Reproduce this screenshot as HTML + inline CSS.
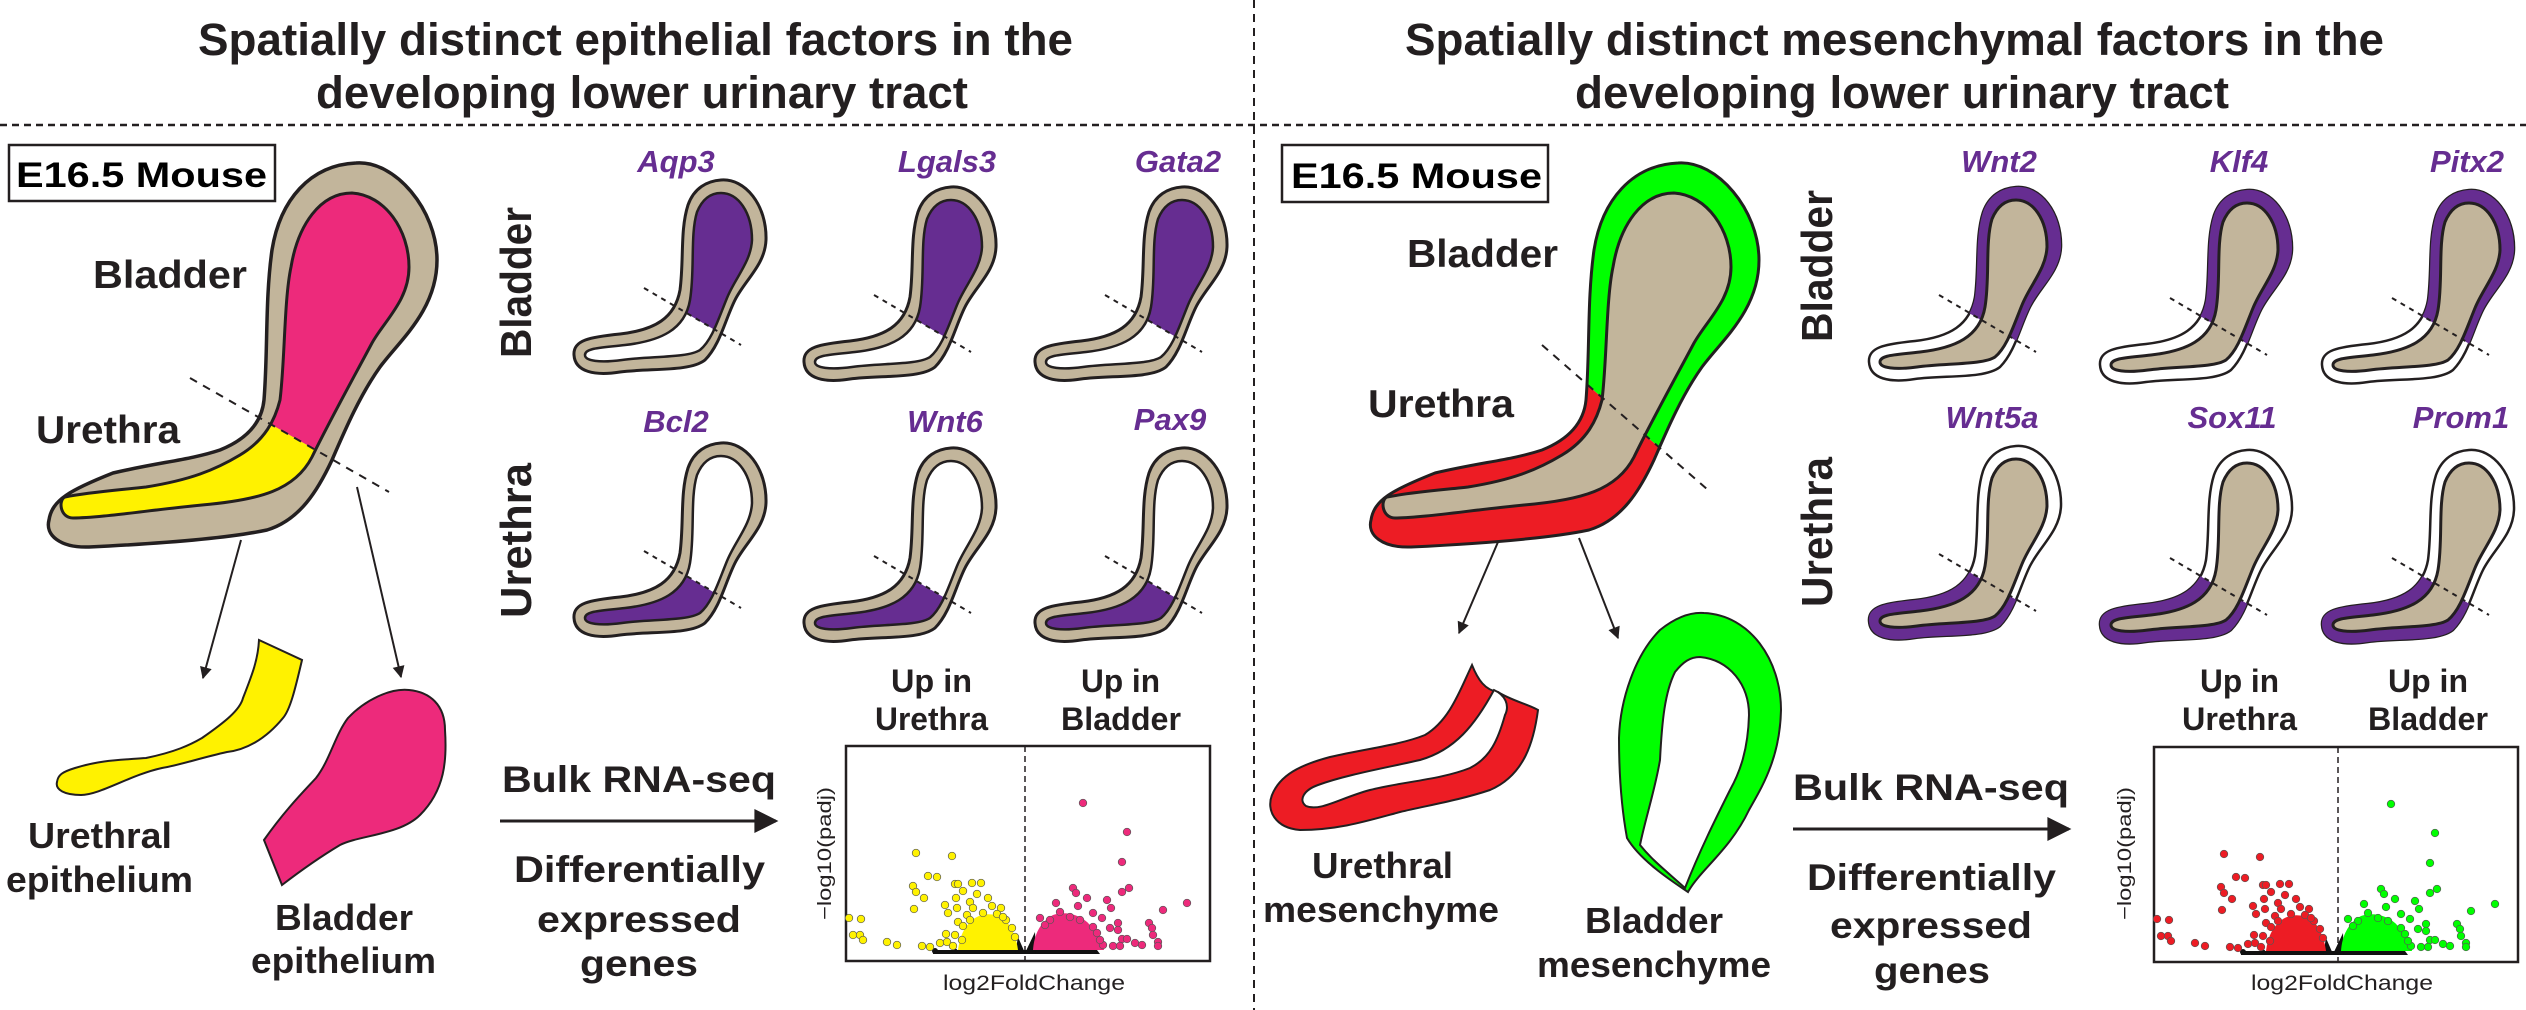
<!DOCTYPE html>
<html><head><meta charset="utf-8"><style>
html,body{margin:0;padding:0;background:#fff;}
svg{display:block;}
text{font-family:"Liberation Sans",Arial,sans-serif;}
.b{font-weight:bold;fill:#231f20;}
.g{font-weight:bold;font-style:italic;fill:#662d91;font-size:31px;}
</style></head><body>
<svg width="2526" height="1010" viewBox="0 0 2526 1010" xmlns="http://www.w3.org/2000/svg">
<defs>
  <marker id="ah" viewBox="0 0 10 10" refX="9" refY="5" markerWidth="14" markerHeight="12" orient="auto" markerUnits="userSpaceOnUse" style="overflow:visible">
    <path d="M0,0 L10,5 L0,10 Z" fill="#231f20"/>
  </marker>
  <marker id="ah2" viewBox="0 0 10 10" refX="9" refY="5" markerWidth="24" markerHeight="24" orient="auto" markerUnits="userSpaceOnUse" style="overflow:visible">
    <path d="M0,0 L10,5 L0,10 Z" fill="#231f20"/>
  </marker>
  <path id="sO" d="M721,180 C745,178 767,205 766,240 C765,265 745,280 735,300 C725,320 720,345 705,360 C690,372 650,368 620,372 C595,376 575,372 574,355 C573,340 590,337 620,334 C655,330 675,318 680,290 C684,260 680,230 688,205 C694,188 707,181 721,180 Z"/>
  <path id="sL" d="M721,193 C738,193 752,212 752,240 C751,262 735,278 727,298 C718,320 712,340 700,350 C688,358 650,356 622,360 C600,363 585,361 585,355 C585,348 600,348 625,345 C660,341 685,330 690,300 C695,270 690,235 697,212 C702,200 710,193 721,193 Z"/>
  <clipPath id="sUp"><polygon points="560,239 800,380 800,150 560,150"/></clipPath>
  <clipPath id="sDn"><polygon points="560,239 800,380 800,400 560,400"/></clipPath>
  <g id="eB">
    <use href="#sO" fill="#c2b59b" stroke="#231f20" stroke-width="3"/>
    <use href="#sL" fill="#fff"/>
    <use href="#sL" fill="#662d91" clip-path="url(#sUp)"/>
    <use href="#sL" fill="none" stroke="#231f20" stroke-width="2.5"/>
    <line x1="644" y1="288" x2="741" y2="345" stroke="#231f20" stroke-width="2" stroke-dasharray="5,5"/>
  </g>
  <g id="eU">
    <use href="#sO" fill="#c2b59b" stroke="#231f20" stroke-width="3"/>
    <use href="#sL" fill="#fff"/>
    <use href="#sL" fill="#662d91" clip-path="url(#sDn)"/>
    <use href="#sL" fill="none" stroke="#231f20" stroke-width="2.5"/>
    <line x1="644" y1="288" x2="741" y2="345" stroke="#231f20" stroke-width="2" stroke-dasharray="5,5"/>
  </g>
  <g id="mB">
    <use href="#sO" fill="#fff" stroke="#231f20" stroke-width="2.5"/>
    <use href="#sO" fill="#662d91" clip-path="url(#sUp)"/>
    <use href="#sL" fill="#c2b59b" stroke="#231f20" stroke-width="3"/>
    <line x1="644" y1="288" x2="741" y2="345" stroke="#231f20" stroke-width="2" stroke-dasharray="5,5"/>
  </g>
  <g id="mU">
    <use href="#sO" fill="#fff" stroke="#231f20" stroke-width="2.5"/>
    <use href="#sO" fill="#662d91" clip-path="url(#sDn)"/>
    <use href="#sL" fill="#c2b59b" stroke="#231f20" stroke-width="3"/>
    <line x1="644" y1="288" x2="741" y2="345" stroke="#231f20" stroke-width="2" stroke-dasharray="5,5"/>
  </g>
  <path id="bO" d="M356,163 C395,160 437,210 437,260 C437,310 400,340 380,367 C360,395 345,430 332,460 C318,490 300,520 267,530 C220,540 130,545 89,547 C60,548 45,535 49,520 C52,500 70,490 113,473 C160,462 190,460 220,450 C250,438 262,420 264,400 C268,350 265,300 272,250 C280,200 310,165 356,163 Z"/>
  <path id="bL" d="M352,193 C385,195 409,230 409,267 C409,300 385,320 372,343 C355,375 330,420 312,457 C295,490 260,500 202,505 C150,510 100,518 73,518 C60,518 58,500 65,497 C90,492 120,490 146,487 C190,480 215,470 240,455 C265,440 275,420 280,400 C285,360 284,300 291,267 C298,225 320,193 352,193 Z"/>
  <clipPath id="bUp"><polygon points="0,269 600,613 600,0 0,0"/></clipPath>
  <clipPath id="bDn"><polygon points="0,269 600,613 600,700 0,700"/></clipPath>
  <clipPath id="rUp"><polygon points="0,153 600,677 600,0 0,0"/></clipPath>
  <clipPath id="rDn"><polygon points="0,153 600,677 600,800 0,800"/></clipPath>
  <g id="pU" stroke="#555" stroke-width="0.7">
    <path d="M958,950 C960,935 965,925 975,918 C985,912 995,914 1003,918 C1010,924 1016,935 1018,950 Z" stroke="none"/>
    <circle cx="916" cy="853" r="3.8"/><circle cx="952" cy="856" r="3.8"/><circle cx="928" cy="876" r="3.8"/><circle cx="937" cy="877" r="3.8"/>
    <circle cx="913" cy="886" r="3.8"/><circle cx="916" cy="892" r="3.8"/><circle cx="924" cy="898" r="3.8"/><circle cx="914" cy="909" r="3.8"/>
    <circle cx="849" cy="918" r="3.8"/><circle cx="861" cy="919" r="3.8"/><circle cx="853" cy="935" r="3.8"/><circle cx="860" cy="935" r="3.8"/>
    <circle cx="863" cy="940" r="3.8"/><circle cx="887" cy="942" r="3.8"/><circle cx="897" cy="945" r="3.8"/><circle cx="922" cy="946" r="3.8"/>
    <circle cx="930" cy="947" r="3.8"/><circle cx="955" cy="884" r="3.8"/><circle cx="958" cy="884" r="3.8"/><circle cx="963" cy="891" r="3.8"/>
    <circle cx="972" cy="883" r="3.8"/><circle cx="981" cy="883" r="3.8"/><circle cx="977" cy="894" r="3.8"/><circle cx="956" cy="898" r="3.8"/>
    <circle cx="988" cy="898" r="3.8"/><circle cx="970" cy="902" r="3.8"/><circle cx="992" cy="906" r="3.8"/><circle cx="1001" cy="908" r="3.8"/>
    <circle cx="945" cy="905" r="3.8"/><circle cx="948" cy="913" r="3.8"/><circle cx="957" cy="908" r="3.8"/><circle cx="967" cy="915" r="3.8"/>
    <circle cx="973" cy="908" r="3.8"/><circle cx="958" cy="922" r="3.8"/><circle cx="946" cy="934" r="3.8"/><circle cx="955" cy="935" r="3.8"/>
    <circle cx="940" cy="943" r="3.8"/><circle cx="947" cy="942" r="3.8"/><circle cx="963" cy="926" r="3.8"/><circle cx="970" cy="920" r="3.8"/>
    <circle cx="983" cy="913" r="3.8"/><circle cx="997" cy="914" r="3.8"/><circle cx="1006" cy="920" r="3.8"/><circle cx="1012" cy="928" r="3.8"/>
    <circle cx="1015" cy="937" r="3.8"/><circle cx="962" cy="940" r="3.8"/><circle cx="953" cy="946" r="3.8"/><circle cx="1003" cy="917" r="3.8"/>
  </g>
  <g id="pB" stroke="#555" stroke-width="0.7">
    <path d="M1033,950 C1034,935 1040,922 1053,915 C1065,911 1080,914 1090,925 C1097,933 1103,942 1104,950 Z" stroke="none"/>
    <circle cx="1083" cy="803" r="3.8"/><circle cx="1127" cy="832" r="3.8"/><circle cx="1122" cy="862" r="3.8"/><circle cx="1129" cy="888" r="3.8"/>
    <circle cx="1122" cy="892" r="3.8"/><circle cx="1073" cy="888" r="3.8"/><circle cx="1076" cy="893" r="3.8"/><circle cx="1087" cy="898" r="3.8"/>
    <circle cx="1107" cy="900" r="3.8"/><circle cx="1056" cy="903" r="3.8"/><circle cx="1078" cy="906" r="3.8"/><circle cx="1111" cy="908" r="3.8"/>
    <circle cx="1163" cy="910" r="3.8"/><circle cx="1187" cy="903" r="3.8"/><circle cx="1093" cy="913" r="3.8"/><circle cx="1102" cy="918" r="3.8"/>
    <circle cx="1040" cy="918" r="3.8"/><circle cx="1050" cy="920" r="3.8"/><circle cx="1118" cy="923" r="3.8"/><circle cx="1118" cy="930" r="3.8"/>
    <circle cx="1110" cy="928" r="3.8"/><circle cx="1149" cy="923" r="3.8"/><circle cx="1152" cy="928" r="3.8"/><circle cx="1153" cy="935" r="3.8"/>
    <circle cx="1122" cy="939" r="3.8"/><circle cx="1127" cy="939" r="3.8"/><circle cx="1158" cy="942" r="3.8"/><circle cx="1158" cy="946" r="3.8"/>
    <circle cx="1135" cy="943" r="3.8"/><circle cx="1142" cy="945" r="3.8"/><circle cx="1113" cy="946" r="3.8"/><circle cx="1120" cy="946" r="3.8"/>
    <circle cx="1103" cy="945" r="3.8"/><circle cx="1080" cy="920" r="3.8"/><circle cx="1070" cy="917" r="3.8"/><circle cx="1093" cy="927" r="3.8"/>
    <circle cx="1097" cy="933" r="3.8"/><circle cx="1100" cy="940" r="3.8"/><circle cx="1060" cy="912" r="3.8"/><circle cx="1045" cy="925" r="3.8"/>
  </g>
  <g id="pK" fill="#111">
    <path d="M933,950 L1097,950 L1100,954 L933,954 Z"/>
    <path d="M1018,937 L1025,953 L1035,932 L1036,954 L1015,954 Z"/>
    <circle cx="935" cy="951" r="3"/><circle cx="955" cy="951" r="2.5"/>
  </g>
</defs>

<line x1="0" y1="125" x2="2526" y2="125" stroke="#231f20" stroke-width="2.5" stroke-dasharray="7,5"/>
<line x1="1254" y1="0" x2="1254" y2="1010" stroke="#231f20" stroke-width="2" stroke-dasharray="8,6"/>

<text class="b" x="198" y="55" font-size="45" textLength="875" lengthAdjust="spacingAndGlyphs">Spatially distinct epithelial factors in the</text>
<text class="b" x="316" y="108" font-size="45" textLength="652" lengthAdjust="spacingAndGlyphs">developing lower urinary tract</text>
<text class="b" x="1405" y="55" font-size="45" textLength="979" lengthAdjust="spacingAndGlyphs">Spatially distinct mesenchymal factors in the</text>
<text class="b" x="1575" y="108" font-size="45" textLength="654" lengthAdjust="spacingAndGlyphs">developing lower urinary tract</text>

<rect x="9" y="145" width="266" height="56" fill="#fff" stroke="#231f20" stroke-width="2.5"/>
<text class="b" x="16" y="187" font-size="35" textLength="251" lengthAdjust="spacingAndGlyphs" style="fill:#000">E16.5 Mouse</text>

<use href="#bO" fill="#c2b59b" stroke="#231f20" stroke-width="3.5"/>
<use href="#bL" fill="#ed2a7b" clip-path="url(#bUp)"/>
<use href="#bL" fill="#fff200" clip-path="url(#bDn)"/>
<use href="#bL" fill="none" stroke="#231f20" stroke-width="3"/>
<line x1="190" y1="378" x2="389" y2="492" stroke="#231f20" stroke-width="2" stroke-dasharray="8,7"/>
<text class="b" x="93" y="288" font-size="39" textLength="154" lengthAdjust="spacingAndGlyphs">Bladder</text>
<text class="b" x="36" y="443" font-size="39" textLength="144" lengthAdjust="spacingAndGlyphs">Urethra</text>

<line x1="241" y1="540" x2="203" y2="678" stroke="#231f20" stroke-width="2" marker-end="url(#ah)"/>
<line x1="357" y1="487" x2="401" y2="677" stroke="#231f20" stroke-width="2" marker-end="url(#ah)"/>

<path d="M259,640 L302,660 C295,690 290,710 283,718 C265,740 245,750 227,752 C200,758 180,765 162,768 C130,775 100,795 81,795 C65,795 55,790 57,782 C58,775 62,772 75,768 C100,760 120,760 146,758 C175,752 190,745 202,738 C225,722 240,710 243,698 C252,675 258,660 259,640 Z" fill="#fff200" stroke="#231f20" stroke-width="2"/>
<path d="M409,690 C430,692 445,705 445,730 C447,760 445,790 420,815 C400,835 360,835 340,845 C315,860 295,875 282,885 L264,840 C285,810 305,790 316,778 C330,760 335,735 348,718 C365,700 390,688 409,690 Z" fill="#ed2a7b" stroke="#231f20" stroke-width="2"/>

<text class="b" x="28" y="848" font-size="36" textLength="144" lengthAdjust="spacingAndGlyphs">Urethral</text>
<text class="b" x="6" y="892" font-size="36" textLength="187" lengthAdjust="spacingAndGlyphs">epithelium</text>
<text class="b" x="275" y="930" font-size="36" textLength="138" lengthAdjust="spacingAndGlyphs">Bladder</text>
<text class="b" x="251" y="973" font-size="36" textLength="185" lengthAdjust="spacingAndGlyphs">epithelium</text>

<text class="b" transform="translate(531,358) rotate(-90)" font-size="44" textLength="151" lengthAdjust="spacingAndGlyphs">Bladder</text>
<text class="b" transform="translate(531,618) rotate(-90)" font-size="44" textLength="155" lengthAdjust="spacingAndGlyphs">Urethra</text>

<text class="g" x="676" y="172" text-anchor="middle">Aqp3</text>
<text class="g" x="947" y="172" text-anchor="middle">Lgals3</text>
<text class="g" x="1178" y="172" text-anchor="middle">Gata2</text>
<text class="g" x="676" y="432" text-anchor="middle">Bcl2</text>
<text class="g" x="945" y="432" text-anchor="middle">Wnt6</text>
<text class="g" x="1170" y="430" text-anchor="middle">Pax9</text>

<use href="#eB"/>
<use href="#eB" transform="translate(230,7)"/>
<use href="#eB" transform="translate(461,7)"/>
<use href="#eU" transform="translate(0,263)"/>
<use href="#eU" transform="translate(230,268)"/>
<use href="#eU" transform="translate(461,268)"/>

<text class="b" x="502" y="792" font-size="37" textLength="274" lengthAdjust="spacingAndGlyphs">Bulk RNA-seq</text>
<line x1="500" y1="821" x2="776" y2="821" stroke="#231f20" stroke-width="3" marker-end="url(#ah2)"/>
<text class="b" x="514" y="882" font-size="37" textLength="251" lengthAdjust="spacingAndGlyphs">Differentially</text>
<text class="b" x="537" y="932" font-size="37" textLength="204" lengthAdjust="spacingAndGlyphs">expressed</text>
<text class="b" x="580" y="976" font-size="37" textLength="118" lengthAdjust="spacingAndGlyphs">genes</text>

<text class="b" x="891" y="692" font-size="32" textLength="81" lengthAdjust="spacingAndGlyphs">Up in</text>
<text class="b" x="875" y="730" font-size="32" textLength="113" lengthAdjust="spacingAndGlyphs">Urethra</text>
<text class="b" x="1081" y="692" font-size="32" textLength="79" lengthAdjust="spacingAndGlyphs">Up in</text>
<text class="b" x="1061" y="730" font-size="32" textLength="120" lengthAdjust="spacingAndGlyphs">Bladder</text>

<rect x="846" y="746" width="364" height="215" fill="none" stroke="#231f20" stroke-width="2.5"/>
<line x1="1025" y1="746" x2="1025" y2="962" stroke="#231f20" stroke-width="1.5" stroke-dasharray="6,4"/>
<use href="#pK"/>
<use href="#pU" fill="#fff200"/>
<use href="#pB" fill="#ed2a7b"/>
<text transform="translate(831,920) rotate(-90)" font-size="19" textLength="133" lengthAdjust="spacingAndGlyphs" fill="#231f20">−log10(padj)</text>
<text x="943" y="990" font-size="21" textLength="182" lengthAdjust="spacingAndGlyphs" fill="#231f20">log2FoldChange</text>

<rect x="1282" y="145" width="266" height="57" fill="#fff" stroke="#231f20" stroke-width="2.5"/>
<text class="b" x="1291" y="188" font-size="35" textLength="251" lengthAdjust="spacingAndGlyphs" style="fill:#000">E16.5 Mouse</text>

<g transform="translate(1322,0)">
  <use href="#bO" fill="#00ff00" clip-path="url(#rUp)"/>
  <use href="#bO" fill="#ed1c24" clip-path="url(#rDn)"/>
  <use href="#bO" fill="none" stroke="#231f20" stroke-width="3"/>
  <use href="#bL" fill="#c2b59b" stroke="#231f20" stroke-width="3"/>
</g>
<line x1="1542" y1="345" x2="1708" y2="490" stroke="#231f20" stroke-width="2" stroke-dasharray="8,7"/>
<text class="b" x="1407" y="267" font-size="39" textLength="151" lengthAdjust="spacingAndGlyphs">Bladder</text>
<text class="b" x="1368" y="417" font-size="39" textLength="146" lengthAdjust="spacingAndGlyphs">Urethra</text>

<line x1="1498" y1="542" x2="1459" y2="633" stroke="#231f20" stroke-width="2" marker-end="url(#ah)"/>
<line x1="1579" y1="538" x2="1618" y2="638" stroke="#231f20" stroke-width="2" marker-end="url(#ah)"/>

<path d="M1472,665 C1478,680 1485,690 1498,692 C1510,700 1530,705 1538,710 C1534,740 1525,775 1490,790 C1460,800 1430,805 1400,812 C1370,820 1340,830 1300,830 C1275,828 1266,810 1272,795 C1280,775 1300,765 1330,757 C1370,748 1400,745 1425,735 C1450,720 1460,690 1472,665 Z" fill="#ed1c24" stroke="#231f20" stroke-width="2"/>
<path d="M1494,690 C1505,695 1510,705 1505,715 C1498,740 1490,758 1470,768 C1440,780 1400,782 1370,790 C1340,798 1320,812 1306,806 C1298,800 1304,790 1318,785 C1345,775 1385,768 1420,760 C1455,750 1475,725 1494,690 Z" fill="#fff" stroke="#231f20" stroke-width="2"/>
<path d="M1704,613 C1750,615 1781,660 1781,710 C1780,760 1760,790 1749,810 C1730,850 1700,870 1688,892 C1670,880 1640,860 1627,838 C1620,800 1619,760 1619,738 C1620,700 1635,655 1660,630 C1675,618 1690,612 1704,613 Z" fill="#00ff00" stroke="#231f20" stroke-width="2"/>
<path d="M1700,657 C1730,660 1749,685 1749,715 C1748,750 1740,772 1730,790 C1715,820 1700,850 1685,888 C1665,870 1652,860 1640,845 C1645,820 1655,790 1660,760 C1662,720 1665,692 1675,672 C1683,662 1690,657 1700,657 Z" fill="#fff" stroke="#231f20" stroke-width="2"/>

<text class="b" x="1312" y="878" font-size="36" textLength="141" lengthAdjust="spacingAndGlyphs">Urethral</text>
<text class="b" x="1263" y="922" font-size="36" textLength="236" lengthAdjust="spacingAndGlyphs">mesenchyme</text>
<text class="b" x="1585" y="933" font-size="36" textLength="138" lengthAdjust="spacingAndGlyphs">Bladder</text>
<text class="b" x="1537" y="977" font-size="36" textLength="234" lengthAdjust="spacingAndGlyphs">mesenchyme</text>

<text class="b" transform="translate(1832,342) rotate(-90)" font-size="44" textLength="152" lengthAdjust="spacingAndGlyphs">Bladder</text>
<text class="b" transform="translate(1832,607) rotate(-90)" font-size="44" textLength="150" lengthAdjust="spacingAndGlyphs">Urethra</text>

<text class="g" x="1999" y="172" text-anchor="middle">Wnt2</text>
<text class="g" x="2239" y="172" text-anchor="middle">Klf4</text>
<text class="g" x="2467" y="172" text-anchor="middle">Pitx2</text>
<text class="g" x="1992" y="428" text-anchor="middle">Wnt5a</text>
<text class="g" x="2232" y="428" text-anchor="middle">Sox11</text>
<text class="g" x="2461" y="428" text-anchor="middle">Prom1</text>

<use href="#mB" transform="translate(1295,7)"/>
<use href="#mB" transform="translate(1526,10)"/>
<use href="#mB" transform="translate(1748,10)"/>
<use href="#mU" transform="translate(1295,266)"/>
<use href="#mU" transform="translate(1526,270)"/>
<use href="#mU" transform="translate(1748,270)"/>

<text class="b" x="1793" y="800" font-size="37" textLength="276" lengthAdjust="spacingAndGlyphs">Bulk RNA-seq</text>
<line x1="1793" y1="829" x2="2069" y2="829" stroke="#231f20" stroke-width="3" marker-end="url(#ah2)"/>
<text class="b" x="1807" y="890" font-size="37" textLength="249" lengthAdjust="spacingAndGlyphs">Differentially</text>
<text class="b" x="1830" y="938" font-size="37" textLength="202" lengthAdjust="spacingAndGlyphs">expressed</text>
<text class="b" x="1874" y="983" font-size="37" textLength="116" lengthAdjust="spacingAndGlyphs">genes</text>

<text class="b" x="2200" y="692" font-size="32" textLength="79" lengthAdjust="spacingAndGlyphs">Up in</text>
<text class="b" x="2182" y="730" font-size="32" textLength="115" lengthAdjust="spacingAndGlyphs">Urethra</text>
<text class="b" x="2388" y="692" font-size="32" textLength="80" lengthAdjust="spacingAndGlyphs">Up in</text>
<text class="b" x="2368" y="730" font-size="32" textLength="120" lengthAdjust="spacingAndGlyphs">Bladder</text>

<g transform="translate(1308,1)">
  <rect x="846" y="746" width="364" height="215" fill="none" stroke="#231f20" stroke-width="2.5"/>
  <line x1="1030" y1="746" x2="1030" y2="962" stroke="#231f20" stroke-width="1.5" stroke-dasharray="6,4"/>
  <use href="#pK"/>
  <use href="#pU" fill="#ed1c24"/>
  <use href="#pB" fill="#00ff00"/>
</g>
<text transform="translate(2131,920) rotate(-90)" font-size="19" textLength="133" lengthAdjust="spacingAndGlyphs" fill="#231f20">−log10(padj)</text>
<text x="2251" y="990" font-size="21" textLength="182" lengthAdjust="spacingAndGlyphs" fill="#231f20">log2FoldChange</text>
</svg>
</body></html>
